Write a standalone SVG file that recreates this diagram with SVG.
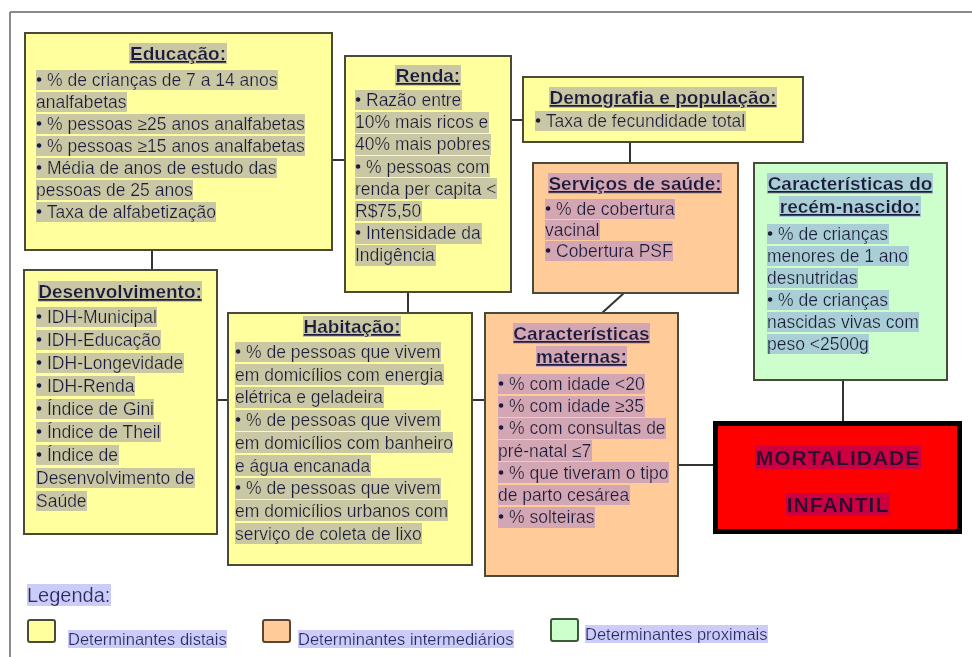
<svg xmlns="http://www.w3.org/2000/svg" width="972" height="657" viewBox="0 0 972 657">
<defs>
<filter id="fy" x="0" y="0" width="1" height="1"><feFlood flood-color="#c9c7a4"/><feComposite in="SourceGraphic"/></filter>
<filter id="fo" x="0" y="0" width="1" height="1"><feFlood flood-color="#d3a6b3"/><feComposite in="SourceGraphic"/></filter>
<filter id="fg" x="0" y="0" width="1" height="1"><feFlood flood-color="#a9ced6"/><feComposite in="SourceGraphic"/></filter>
<filter id="fr" x="0" y="0" width="1" height="1"><feFlood flood-color="#cc0040"/><feComposite in="SourceGraphic"/></filter>
<filter id="fl" x="0" y="0" width="1" height="1"><feFlood flood-color="#ccccfa"/><feComposite in="SourceGraphic"/></filter>
</defs>
<style>
text{font-family:"Liberation Sans",Arial,Helvetica,sans-serif;fill:#1e1e40;font-size:17.5px}
.t{font-weight:bold;font-size:19px;text-decoration:underline;text-anchor:middle}
.box{stroke:#4a4a38;stroke-width:2}
.yel{fill:#ffff9e}
.ora{fill:#ffcc99}
.grn{fill:#ccffcc}
.hy text{filter:url(#fy)}
.ho text{filter:url(#fo)}
.hg text{filter:url(#fg)}
.hl text{filter:url(#fl);fill:#2a2a66;font-size:16.5px}
.mort text{filter:url(#fr);font-weight:bold;font-size:21px;letter-spacing:1px;text-anchor:middle;fill:#2a0830}
#connectors line{stroke:#333;stroke-width:2}
</style>
<rect width="972" height="657" fill="#ffffff"/>
<g id="frame" stroke="#8a8a8a" stroke-width="2" fill="none">
<line x1="10" y1="12" x2="972" y2="12"/>
<line x1="10" y1="12" x2="10" y2="657"/>
</g>
<g id="connectors">
<line x1="152" y1="250" x2="152" y2="270"/>
<line x1="332" y1="160" x2="345" y2="160"/>
<line x1="511" y1="120" x2="523" y2="120"/>
<line x1="630" y1="142" x2="630" y2="163"/>
<line x1="624" y1="293" x2="602" y2="313"/>
<line x1="408" y1="292" x2="408" y2="313"/>
<line x1="217" y1="400" x2="228" y2="400"/>
<line x1="472" y1="400" x2="485" y2="400"/>
<line x1="678" y1="465" x2="713" y2="465"/>
<line x1="843" y1="380" x2="843" y2="421"/>
</g>
<g id="educacao" class="hy">
<rect class="box yel" x="25" y="33" width="307" height="217"/>
<text class="t" x="178" y="60">Educação:</text>
<text x="36" y="86">• % de crianças de 7 a 14 anos</text>
<text x="36" y="108">analfabetas</text>
<text x="36" y="130">• % pessoas ≥25 anos analfabetas</text>
<text x="36" y="152">• % pessoas ≥15 anos analfabetas</text>
<text x="36" y="174">• Média de anos de estudo das</text>
<text x="36" y="196">pessoas de 25 anos</text>
<text x="36" y="218">• Taxa de alfabetização</text>
</g>
<g id="renda" class="hy">
<rect class="box yel" x="345" y="56" width="166" height="236"/>
<text class="t" x="428" y="82">Renda:</text>
<text x="355" y="106">• Razão entre</text>
<text x="355" y="128.2">10% mais ricos e</text>
<text x="355" y="150.4">40% mais pobres</text>
<text x="355" y="172.6">• % pessoas com</text>
<text x="355" y="194.8">renda per capita &lt;</text>
<text x="355" y="217">R$75,50</text>
<text x="355" y="239.2">• Intensidade da</text>
<text x="355" y="261.4">Indigência</text>
</g>
<g id="demografia" class="hy">
<rect class="box yel" x="523" y="77" width="280" height="65"/>
<text class="t" x="663" y="104">Demografia e população:</text>
<text x="535" y="127">• Taxa de fecundidade total</text>
</g>
<g id="servicos" class="ho">
<rect class="box ora" x="533" y="163" width="205" height="130"/>
<text class="t" x="635" y="190">Serviços de saúde:</text>
<text x="545" y="215">• % de cobertura</text>
<text x="545" y="236">vacinal</text>
<text x="545" y="257">• Cobertura PSF</text>
</g>
<g id="recem-nascido" class="hg">
<rect class="box grn" x="754" y="163" width="193" height="217"/>
<text class="t" x="850" y="190">Características do</text>
<text class="t" x="850" y="213">recém-nascido:</text>
<text x="767" y="240">• % de crianças</text>
<text x="767" y="262">menores de 1 ano</text>
<text x="767" y="284">desnutridas</text>
<text x="767" y="306">• % de crianças</text>
<text x="767" y="328">nascidas vivas com</text>
<text x="767" y="350">peso &lt;2500g</text>
</g>
<g id="desenvolvimento" class="hy">
<rect class="box yel" x="24" y="270" width="193" height="264"/>
<text class="t" x="120" y="298">Desenvolvimento:</text>
<text x="36" y="323">• IDH-Municipal</text>
<text x="36" y="346">• IDH-Educação</text>
<text x="36" y="369">• IDH-Longevidade</text>
<text x="36" y="392">• IDH-Renda</text>
<text x="36" y="415">• Índice de Gini</text>
<text x="36" y="438">• Índice de Theil</text>
<text x="36" y="461">• Índice de</text>
<text x="36" y="484">Desenvolvimento de</text>
<text x="36" y="507">Saúde</text>
</g>
<g id="habitacao" class="hy">
<rect class="box yel" x="228" y="313" width="244" height="252"/>
<text class="t" x="352" y="333">Habitação:</text>
<text x="235" y="358">• % de pessoas que vivem</text>
<text x="235" y="380.7">em domicílios com energia</text>
<text x="235" y="403.4">elétrica e geladeira</text>
<text x="235" y="426.1">• % de pessoas que vivem</text>
<text x="235" y="448.8">em domicílios com banheiro</text>
<text x="235" y="471.5">e água encanada</text>
<text x="235" y="494.2">• % de pessoas que vivem</text>
<text x="235" y="516.9">em domicílios urbanos com</text>
<text x="235" y="539.6">serviço de coleta de lixo</text>
</g>
<g id="maternas" class="ho">
<rect class="box ora" x="485" y="313" width="193" height="263"/>
<text class="t" x="581.5" y="340">Características</text>
<text class="t" x="581.5" y="363">maternas:</text>
<text x="498" y="390">• % com idade &lt;20</text>
<text x="498" y="412.2">• % com idade ≥35</text>
<text x="498" y="434.4">• % com consultas de</text>
<text x="498" y="456.6">pré-natal ≤7</text>
<text x="498" y="478.8">• % que tiveram o tipo</text>
<text x="498" y="501">de parto cesárea</text>
<text x="498" y="523.2">• % solteiras</text>
</g>
<g id="mortalidade" class="mort">
<rect x="715.5" y="423.5" width="244" height="108" fill="#ff0000" stroke="#000000" stroke-width="5"/>
<text x="838" y="465">MORTALIDADE</text>
<text x="838" y="512">INFANTIL</text>
</g>
<g id="legenda" class="hl">
<text x="27" y="602" style="font-size:20px">Legenda:</text>
<rect x="28" y="620" width="27" height="22" rx="2" fill="#ffff9e" stroke="#4a4a38" stroke-width="2"/>
<text x="68" y="645">Determinantes distais</text>
<rect x="263" y="620" width="27" height="22" rx="2" fill="#ffcc99" stroke="#5a4632" stroke-width="2"/>
<text x="298" y="645">Determinantes intermediários</text>
<rect x="551" y="619" width="27" height="22" rx="2" fill="#ccffcc" stroke="#3a5a3a" stroke-width="2"/>
<text x="585" y="640">Determinantes proximais</text>
</g>
</svg>
